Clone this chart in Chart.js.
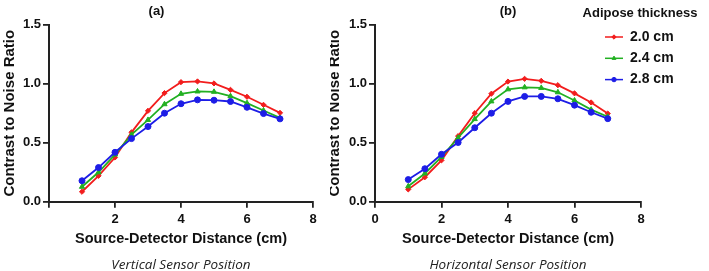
<!DOCTYPE html>
<html>
<head>
<meta charset="utf-8">
<script src="https://cdn.jsdelivr.net/npm/chart.js@4.4.1/dist/chart.umd.min.js"></script>
<style>
  html, body { margin: 0; padding: 0; background: #fff; }
  #wrap { position: relative; width: 709px; height: 271px; overflow: hidden; }
  .panel { position: absolute; top: 0; height: 271px; }
  #panelA { left: 0; width: 330px; }
  #panelB { left: 330px; width: 379px; }
</style>
</head>
<body>
<div id="wrap">
  <div class="panel" id="panelA"><canvas id="chartA"></canvas></div>
  <div class="panel" id="panelB"><canvas id="chartB"></canvas></div>
</div>
<script>
// source-detector distances (cm)
const distances = [1, 1.5, 2, 2.5, 3, 3.5, 4, 4.5, 5, 5.5, 6, 6.5, 7];
const thicknessLabels = ['2.0 cm', '2.4 cm', '2.8 cm'];

// (a) vertical sensor position
const vertical20 = [0.085, 0.22, 0.375, 0.588, 0.77, 0.92, 1.013, 1.019, 1.002, 0.948, 0.889, 0.821, 0.753];
const vertical24 = [0.127, 0.25, 0.40, 0.568, 0.693, 0.826, 0.914, 0.934, 0.931, 0.894, 0.835, 0.773, 0.71];
const vertical28 = [0.178, 0.29, 0.419, 0.535, 0.637, 0.75, 0.83, 0.863, 0.86, 0.849, 0.80, 0.747, 0.702];

// (b) horizontal sensor position
const horizontal20 = [0.105, 0.208, 0.351, 0.556, 0.75, 0.915, 1.018, 1.041, 1.024, 0.987, 0.918, 0.841, 0.747];
const horizontal24 = [0.131, 0.24, 0.38, 0.542, 0.70, 0.85, 0.952, 0.969, 0.964, 0.927, 0.858, 0.78, 0.72];
const horizontal28 = [0.188, 0.28, 0.402, 0.502, 0.627, 0.75, 0.85, 0.892, 0.892, 0.872, 0.818, 0.758, 0.704];

const seriesColors = ['#f21d1d', '#22b022', '#1d1de6'];
const seriesMarkers = ['rectRot', 'triangle', 'circle'];

const fontFamily = '"Liberation Sans", Arial, Helvetica, sans-serif';
Chart.defaults.font.family = fontFamily;
Chart.defaults.color = '#111';

// draws the "Adipose thickness" key with a line + marker per dataset
const adiposeLegend = {
    id: 'adiposeLegend',
    afterDraw(chart, args, opts) {
        if (!opts.display) return;
        const ctx = chart.ctx;
        ctx.save();
        ctx.fillStyle = '#111';
        ctx.textBaseline = 'middle';
        ctx.textAlign = 'center';
        ctx.font = 'bold 13px ' + fontFamily;
        ctx.fillText(opts.title, opts.titleX, opts.titleY);

        ctx.textAlign = 'left';
        ctx.font = 'bold 14px ' + fontFamily;
        chart.data.datasets.forEach((ds, i) => {
            const y = opts.itemY + i * opts.rowGap;
            ctx.strokeStyle = ds.borderColor;
            ctx.lineWidth = 1.5;
            ctx.beginPath();
            ctx.moveTo(opts.lineX, y);
            ctx.lineTo(opts.lineX + opts.lineLength, y);
            ctx.stroke();

            ctx.fillStyle = ds.backgroundColor;
            ctx.lineWidth = 1;
            if (Chart.helpers && Chart.helpers.drawPoint) {
                Chart.helpers.drawPoint(ctx, { pointStyle: ds.pointStyle, radius: 2.2, rotation: 0, borderWidth: 1 },
                    opts.lineX + opts.lineLength / 2, y);
            } else {
                ctx.beginPath();
                ctx.arc(opts.lineX + opts.lineLength / 2, y, 2.2, 0, Math.PI * 2);
                ctx.fill();
            }

            ctx.fillStyle = '#111';
            ctx.fillText(ds.label, opts.lineX + opts.lineLength + 7, y);
        });
        ctx.restore();
    }
};

function makeDatasets(values) {
    return values.map((vals, i) => ({
        label: thicknessLabels[i],
        data: distances.map((d, j) => ({ x: d, y: vals[j] })),
        borderColor: seriesColors[i],
        backgroundColor: seriesColors[i],
        borderWidth: 1.8,
        pointStyle: seriesMarkers[i],
        pointRadius: i === 0 ? 2.6 : 3,
        pointBorderWidth: 1,
        tension: 0,
        order: 2 - i
    }));
}

function axisStyle() {
    return {
        grid: { drawOnChartArea: false, drawTicks: true, tickLength: 6, lineWidth: 1.8, color: '#222' },
        border: { display: true, color: '#222', width: 2 }
    };
}

function createPanel(canvasId, cfg) {
    const ctx = document.getElementById(canvasId).getContext('2d');
    return new Chart(ctx, {
        type: 'line',
        data: { datasets: makeDatasets(cfg.series) },
        options: {
            responsive: true,
            maintainAspectRatio: false,
            animation: false,
            devicePixelRatio: 1,
            layout: { padding: { left: 0, right: cfg.rightPad, top: 0, bottom: 0 } },
            scales: {
                x: {
                    type: 'linear',
                    min: 0,
                    max: 8,
                    ...axisStyle(),
                    ticks: {
                        stepSize: 2,
                        padding: 4,
                        color: '#111',
                        font: { size: 13, weight: 'bold' },
                        callback: (v) => (cfg.hideZero && v === 0) ? '' : v
                    },
                    title: {
                        display: true,
                        text: 'Source-Detector Distance (cm)',
                        color: '#111',
                        font: { size: 14.5, weight: 'bold', lineHeight: 1.2 },
                        padding: { top: 0, bottom: 6.5 }
                    },
                    afterFit: (scale) => { scale.height = 52; }
                },
                y: {
                    min: 0,
                    max: 1.5,
                    ...axisStyle(),
                    ticks: {
                        stepSize: 0.5,
                        padding: 2,
                        color: '#111',
                        font: { size: 13, weight: 'bold' },
                        callback: (v) => v.toFixed(1)
                    },
                    title: {
                        display: true,
                        text: 'Contrast to Noise Ratio',
                        color: '#111',
                        font: { size: 15, weight: 'bold', lineHeight: 1 },
                        padding: { top: cfg.yTitlePad, bottom: 0 }
                    },
                    afterFit: (scale) => { scale.width = cfg.yAxisWidth; }
                }
            },
            plugins: {
                legend: { display: false },
                tooltip: { enabled: false },
                title: {
                    display: true,
                    text: cfg.title,
                    fullSize: cfg.titleFull,
                    color: '#111',
                    font: { size: 13, weight: 'bold', lineHeight: 1.2 },
                    padding: { top: 4, bottom: 5 }
                },
                subtitle: {
                    display: true,
                    position: 'bottom',
                    text: cfg.subtitle,
                    fullSize: false,
                    color: '#222',
                    font: { family: '"Open Sans", Lato, sans-serif', size: 13.5, style: 'italic', weight: 'normal', lineHeight: 1.2 },
                    padding: { top: 3, bottom: -2 }
                },
                adiposeLegend: cfg.legend
            }
        },
        plugins: [adiposeLegend]
    });
}

createPanel('chartA', {
    series: [vertical20, vertical24, vertical28],
    title: '(a)',
    titleFull: true,
    subtitle: 'Vertical Sensor Position',
    hideZero: true,
    rightPad: 17,
    yAxisWidth: 49,
    yTitlePad: 2.5,
    legend: { display: false }
});

createPanel('chartB', {
    series: [horizontal20, horizontal24, horizontal28],
    title: '(b)',
    titleFull: false,
    subtitle: 'Horizontal Sensor Position',
    hideZero: false,
    rightPad: 68,
    yAxisWidth: 45,
    yTitlePad: -3,
    legend: {
        display: true,
        title: 'Adipose thickness',
        titleX: 310,
        titleY: 13,
        lineX: 275,
        lineLength: 18,
        itemY: 37,
        rowGap: 21.3
    }
});
</script>
</body>
</html>
